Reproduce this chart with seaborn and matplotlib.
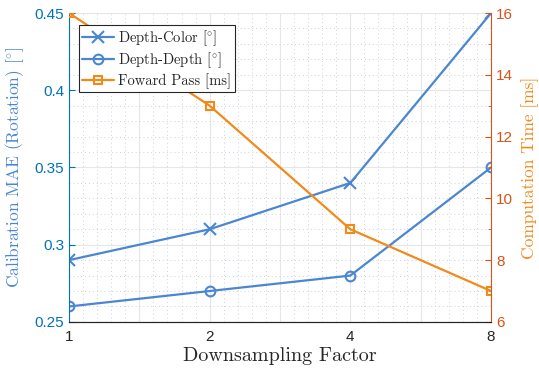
import numpy as np
import pandas as pd
import matplotlib
matplotlib.use("Agg")
import matplotlib.pyplot as plt
import seaborn as sns
from matplotlib.ticker import FixedLocator, FuncFormatter

# values
factors = [1, 2, 4, 8]
depth_color = [0.29, 0.31, 0.34, 0.45]
depth_depth = [0.26, 0.27, 0.28, 0.35]
forward_pass = [16, 13, 9, 7]

BLUE = "#4a86d1"
ORANGE = "#f28a1a"
AX_BLUE = "#0072bd"
AX_RED = "#d95319"
SERIF = "cmr10"
DEG = r"$[^{\circ}]$"

sns.set_style("white")
plt.rcParams["font.family"] = ["Liberation Sans", "DejaVu Sans"]
plt.rcParams["mathtext.fontset"] = "cm"

df = pd.DataFrame({
    "factor": factors,
    "Depth-Color": depth_color,
    "Depth-Depth": depth_depth,
    "Forward": forward_pass,
})

fig = plt.figure(figsize=(5.39, 3.73), dpi=100)
ax = fig.add_axes([0.128, 0.137, 0.783, 0.828])
ax2 = ax.twinx()

sns.lineplot(data=df, x="factor", y="Depth-Color", ax=ax, color=BLUE, marker="x",
             markersize=9, markeredgecolor=BLUE, markeredgewidth=1.5, linewidth=1.6,
             label="Depth-Color " + DEG, legend=False)
sns.lineplot(data=df, x="factor", y="Depth-Depth", ax=ax, color=BLUE, marker="o",
             markersize=7, markerfacecolor="none", markeredgecolor=BLUE,
             markeredgewidth=1.5, linewidth=1.6,
             label="Depth-Depth " + DEG, legend=False)
sns.lineplot(data=df, x="factor", y="Forward", ax=ax2, color=ORANGE, marker="s",
             markersize=6, markerfacecolor="none", markeredgecolor=ORANGE,
             markeredgewidth=1.5, linewidth=1.6,
             label="Foward Pass [ms]", legend=False)

ax.set_xscale("log", base=2)
ax.set_xlim(1, 8)
ax.set_ylim(0.25, 0.45)
ax2.set_ylim(6, 16)

half = [2 ** (k / 2) for k in range(7)]
ax.xaxis.set_major_locator(FixedLocator(half))
ax.xaxis.set_major_formatter(FuncFormatter(
    lambda v, p: f"{int(round(v))}" if abs(np.log2(v) - round(np.log2(v))) < 1e-6 else ""))
ax.xaxis.set_minor_locator(FixedLocator([2 ** (k / 10) for k in range(31)]))
ax.xaxis.set_minor_formatter(FuncFormatter(lambda v, p: ""))

ax.set_yticks([0.25, 0.3, 0.35, 0.4, 0.45])
ax.set_yticklabels(["0.25", "0.3", "0.35", "0.4", "0.45"])
ax.set_yticks(np.arange(0.25, 0.4501, 0.01), minor=True)
ax2.set_yticks([6, 8, 10, 12, 14, 16])
ax2.set_yticks(np.arange(6, 16.01, 1), minor=True)

ax.grid(True, which="major", color="#e6e6e6", linewidth=0.8, linestyle="-")
ax.grid(True, which="minor", color="#c8d2dc", linewidth=0.7, linestyle=(0, (1, 3)))
ax.set_axisbelow(True)

ax.tick_params(axis="x", which="major", direction="in", length=4, colors="#262626",
               labelsize=11, pad=6)
ax.tick_params(axis="x", which="minor", length=0)
ax.tick_params(axis="y", which="major", direction="in", length=4, colors=AX_BLUE,
               labelsize=11)
ax.tick_params(axis="y", which="minor", length=0)
ax2.tick_params(axis="y", which="major", direction="in", length=4, colors=AX_RED,
                labelsize=11)
ax2.tick_params(axis="y", which="minor", direction="in", length=2, colors=AX_RED)

for a in (ax, ax2):
    a.spines["top"].set_visible(False)
    a.spines["bottom"].set_color("#262626")
ax.spines["left"].set_color(AX_BLUE)
ax.spines["right"].set_visible(False)
ax2.spines["left"].set_visible(False)
ax2.spines["right"].set_color(AX_RED)

ax.set_xlabel("Downsampling Factor", family=SERIF, fontsize=14.5, color="#262626",
              labelpad=2)
ax.set_ylabel("Calibration MAE (Rotation) " + DEG, family=SERIF, fontsize=12.5,
              color=BLUE, labelpad=6)
ax2.set_ylabel("Computation Time [ms]", family=SERIF, fontsize=12.5, color=ORANGE,
               labelpad=6)

handles = ax.get_lines()[:2] + ax2.get_lines()[:1]
leg = ax2.legend(handles, [h.get_label() for h in handles], loc="upper left",
                 bbox_to_anchor=(0.024, 0.961), prop={"family": SERIF, "size": 10.5},
                 frameon=True, fancybox=False, edgecolor="#262626", framealpha=1,
                 borderpad=0.2, labelspacing=0.2, handlelength=2.2,
                 handletextpad=0.3, borderaxespad=0.0)
leg.get_frame().set_linewidth(0.8)

fig.savefig("out.png", dpi=100)
